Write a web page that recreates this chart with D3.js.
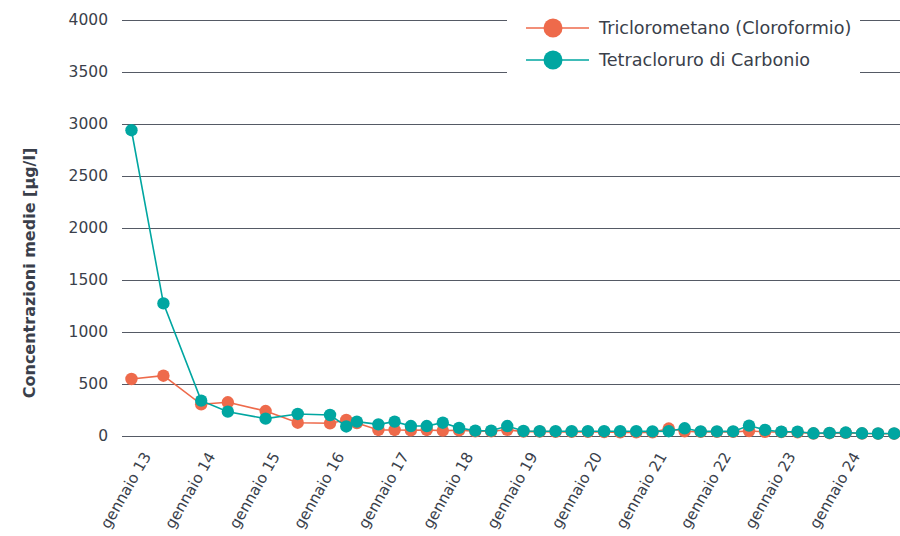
<!DOCTYPE html>
<html>
<head>
<meta charset="utf-8">
<script src="https://cdn.jsdelivr.net/npm/d3@7"></script>
<style>
  html, body { margin: 0; padding: 0; background: #fff; }
  svg { display: block; font-family: "DejaVu Sans", "Noto Sans", sans-serif; }
</style>
</head>
<body>
<svg id="chart" width="900" height="536"></svg>
<script>
// Sampling campaigns (year-month)
const dates = [
  "2012-09", "2013-03", "2013-10", "2014-03", "2014-10", "2015-04", "2015-10",
  "2016-01", "2016-03", "2016-07", "2016-10",
  "2017-01", "2017-04", "2017-07", "2017-10",
  "2018-01", "2018-04", "2018-07", "2018-10",
  "2019-01", "2019-04", "2019-07", "2019-10",
  "2020-01", "2020-04", "2020-07", "2020-10",
  "2021-01", "2021-04", "2021-07", "2021-10",
  "2022-01", "2022-04", "2022-07", "2022-10",
  "2023-01", "2023-04", "2023-07", "2023-10",
  "2024-01", "2024-04", "2024-07"
];

// Mean concentrations [µg/l]
const triclorometano = [
  548, 580, 305, 324, 240, 128, 122,
  154, 125, 58, 58,
  55, 58, 52, 55,
  45, 45, 60, 42,
  42, 40, 40, 40,
  38, 35, 35, 35,
  72, 45, 40, 40,
  40, 48, 40, 38,
  35, 24, 27, 30,
  24, 22, 22
];
const tetracloruro = [
  2940, 1275, 340, 234, 167, 212, 202,
  92, 138, 112, 138,
  96, 96, 128, 78,
  51, 51, 96, 48,
  46, 46, 46, 46,
  46, 46, 46, 44,
  46, 74, 44, 44,
  44, 100, 58, 41,
  41, 26, 30, 33,
  26, 24, 24
];

const seriesNames = ["Triclorometano (Cloroformio)", "Tetracloruro di Carbonio"];
const seriesColors = ["#ee6a4b", "#00a6a1"];
const yTicks = [0, 500, 1000, 1500, 2000, 2500, 3000, 3500, 4000];
const yTitle = "Concentrazioni medie [µg/l]";
const monthLabel = "gennaio";

const parse = d3.timeParse("%Y-%m");
const dateValues = dates.map(parse);
const series = [triclorometano, tetracloruro].map((vals, i) => ({
  name: seriesNames[i],
  color: seriesColors[i],
  points: vals.map((v, j) => ({ date: dateValues[j], value: v }))
}));

const svg = d3.select("#chart");
const W = 900;
const plotLeft = 122, plotTop = 20, plotBottom = 436;
const font = "'DejaVu Sans', 'Noto Sans', sans-serif";

const x = d3.scaleTime()
  .domain([new Date(2013, 0, 1), new Date(2024, 0, 1)])
  .range([153, 862]);
const y = d3.scaleLinear().domain([0, 4000]).range([plotBottom, plotTop]);

const textColor = "#3a3f4b";

// Horizontal grid
svg.append("g")
  .selectAll("line")
  .data(yTicks)
  .join("line")
  .attr("x1", plotLeft).attr("x2", W)
  .attr("y1", d => Math.round(y(d)) + 0.5)
  .attr("y2", d => Math.round(y(d)) + 0.5)
  .attr("stroke", "#555a65")
  .attr("stroke-width", 1);

// Y axis labels
const yAxis = svg.append("g")
  .attr("transform", `translate(${plotLeft - 14},0)`)
  .call(d3.axisLeft(y).tickValues(yTicks).tickSize(0).tickPadding(0).tickFormat(d3.format("d")));
yAxis.select(".domain").remove();
yAxis.selectAll("text")
  .attr("fill", textColor)
  .style("font-size", "15.5px")
  .style("font-family", font);

// Y axis title
svg.append("text")
  .attr("transform", `translate(35,273) rotate(-90)`)
  .attr("text-anchor", "middle")
  .attr("fill", textColor)
  .style("font-size", "16px")
  .style("font-weight", "700")
  .text(yTitle);

// X axis labels (January of each year)
const xAxis = svg.append("g")
  .attr("transform", `translate(0,${plotBottom})`)
  .call(d3.axisBottom(x)
    .ticks(d3.timeYear.every(1))
    .tickSize(0)
    .tickFormat(d => `${monthLabel} ${d3.timeFormat("%y")(d)}`));
xAxis.select(".domain").remove();
xAxis.selectAll("text")
  .attr("x", 0).attr("y", 0).attr("dy", 0)
  .attr("transform", "translate(-2,20) rotate(-60)")
  .attr("text-anchor", "end")
  .attr("fill", textColor)
  .style("font-size", "15.2px")
  .style("font-family", font);

// Series lines and markers
const line = d3.line().x(d => x(d.date)).y(d => y(d.value));
series.forEach(s => {
  const g = svg.append("g");
  g.append("path")
    .datum(s.points)
    .attr("d", line)
    .attr("fill", "none")
    .attr("stroke", s.color)
    .attr("stroke-width", 1.6);
  g.selectAll("circle")
    .data(s.points)
    .join("circle")
    .attr("cx", d => x(d.date))
    .attr("cy", d => y(d.value))
    .attr("r", 6.2)
    .attr("fill", s.color);
});

// Legend
const legend = svg.append("g").attr("transform", "translate(507,8)");
legend.append("rect")
  .attr("width", 353).attr("height", 70)
  .attr("fill", "#fff");
const item = legend.selectAll("g.item")
  .data(series)
  .join("g")
  .attr("class", "item")
  .attr("transform", (d, i) => `translate(0,${20 + i * 32})`);
item.append("line")
  .attr("x1", 19).attr("x2", 82)
  .attr("stroke", d => d.color).attr("stroke-width", 1.6);
item.append("circle")
  .attr("cx", 46).attr("r", 9.5)
  .attr("fill", d => d.color);
item.append("text")
  .attr("x", 92).attr("dy", "0.35em")
  .attr("fill", textColor)
  .style("font-size", "17.6px")
  .style("font-family", font)
  .text(d => d.name);
</script>
</body>
</html>
